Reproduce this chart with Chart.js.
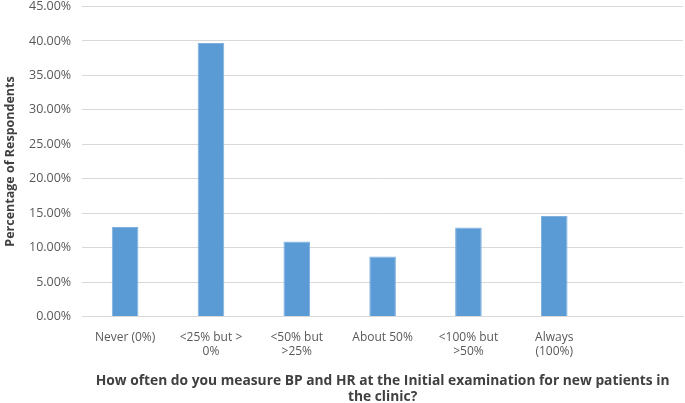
<!DOCTYPE html>
<html>
<head>
<meta charset="utf-8">
<script src="https://cdn.jsdelivr.net/npm/chart.js@4/dist/chart.umd.min.js"></script>
<style>
  html, body { margin: 0; padding: 0; background: #fff; overflow: hidden; }
  #wrap { position: absolute; left: 0; top: -12px; width: 685px; height: 417px; }
</style>
</head>
<body>
<div id="wrap"><canvas id="myChart"></canvas></div>
<script>
// answer categories (last slot is empty in the original)
var categories = [
  "Never (0%)",
  ["<25% but >", "0%"],
  ["<50% but", ">25%"],
  "About 50%",
  ["<100% but", ">50%"],
  ["Always", "(100%)"],
  ""
];
// percentage of respondents
var percents = [13.0, 39.7, 10.9, 8.7, 12.9, 14.6, null];
var yTicks = [0, 5, 10, 15, 20, 25, 30, 35, 40, 45];

var ctx = document.getElementById("myChart");
var myChart = new Chart(ctx, {
  type: "bar",
  data: {
    labels: categories,
    datasets: [
      {
        data: percents,
        backgroundColor: "#5b9bd5",
        borderColor: "#7fb0de",
        borderWidth: 1,
        barPercentage: 0.31,
        categoryPercentage: 1.0,
      },
    ],
  },
  options: {
    responsive: true,
    maintainAspectRatio: false,
    animation: false,
    layout: { padding: { top: 0, right: 2, left: 1, bottom: 0 } },
    plugins: {
      legend: { display: false },
      tooltip: { enabled: false },
    },
    scales: {
      x: {
        grid: { display: false, drawTicks: false },
        border: { display: true, color: "#d9d9d9", width: 1 },
        ticks: {
          color: "#595959",
          font: { family: "Open Sans", size: 12 },
          maxRotation: 0,
          autoSkip: false,
          padding: 14,
        },
        title: {
          display: true,
          text: ["How often do you measure BP and HR at the Initial examination for new patients in", "the clinic?"],
          color: "#404040",
          font: { family: "Open Sans", size: 13.8, weight: "bold", lineHeight: 1.15 },
          padding: { top: 0, bottom: 0 },
        },
      },
      y: {
        min: 0,
        max: 45,
        afterBuildTicks: function (axis) {
          axis.ticks = yTicks.map(function (v) { return { value: v }; });
        },
        grid: { color: "#d9d9d9", drawTicks: false },
        border: { display: false },
        ticks: {
          color: "#595959",
          font: { family: "Open Sans", size: 12.5 },
          padding: 11,
          callback: function (v) { return v.toFixed(2) + "%"; },
        },
        title: {
          display: true,
          text: "Percentage of Respondents",
          color: "#404040",
          font: { family: "Open Sans", size: 12.5, weight: "bold" },
          padding: { top: 2, bottom: 0 },
        },
      },
    },
  },
});
</script>
</body>
</html>
